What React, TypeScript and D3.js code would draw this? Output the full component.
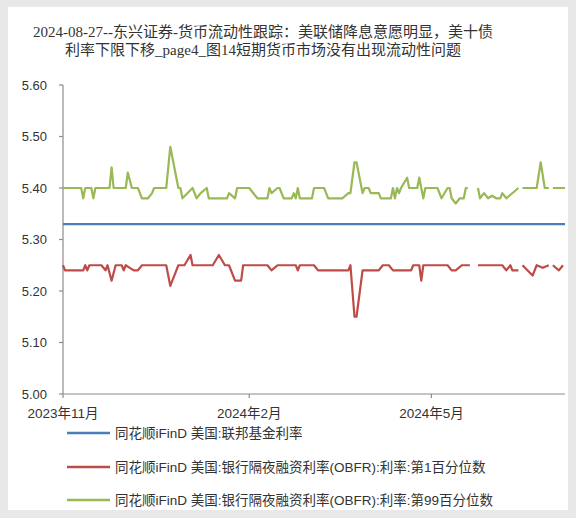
import React from "react";
import * as d3 from "d3";

const titleLines = [
  "2024-08-27--东兴证券-货币流动性跟踪：美联储降息意愿明显，美十债",
  "利率下限下移_page4_图14短期货币市场没有出现流动性问题",
];

const seriesNames = [
  "同花顺iFinD 美国:联邦基金利率",
  "同花顺iFinD 美国:银行隔夜融资利率(OBFR):利率:第1百分位数",
  "同花顺iFinD 美国:银行隔夜融资利率(OBFR):利率:第99百分位数",
];
const seriesColors = ["#4A7EBB", "#BE4B48", "#98B954"];

const yTicks = [5.0, 5.1, 5.2, 5.3, 5.4, 5.5, 5.6];
const xTickDates = ["2023-11-01", "2024-02-01", "2024-05-01"];
const xTickLabels = ["2023年11月", "2024年2月", "2024年5月"];
const xDomain = ["2023-11-01", "2024-07-06"];

// 联邦基金利率
const fedDates = ["2023-11-01", "2024-07-06"];
const fedValues = [5.33, 5.33];

// OBFR 第1百分位数
const p1Dates = [
  "2023-11-01", "2023-11-02", "2023-11-11", "2023-11-12", "2023-11-13", "2023-11-14",
  "2023-11-20", "2023-11-22", "2023-11-23", "2023-11-25", "2023-11-27", "2023-11-30",
  "2023-12-01", "2023-12-02", "2023-12-04", "2023-12-06", "2023-12-08", "2023-12-10",
  "2023-12-22", "2023-12-24", "2023-12-28", "2023-12-31", "2024-01-03", "2024-01-04",
  "2024-01-14", "2024-01-17", "2024-01-20", "2024-01-22", "2024-01-25", "2024-01-28",
  "2024-01-29", "2024-02-10", "2024-02-12", "2024-02-15", "2024-02-24", "2024-02-25",
  "2024-02-26", "2024-03-04", "2024-03-06", "2024-03-21", "2024-03-22", "2024-03-24",
  "2024-03-25", "2024-03-28", "2024-04-05", "2024-04-07", "2024-04-10", "2024-04-12",
  "2024-04-21", "2024-04-22", "2024-04-25", "2024-04-26", "2024-04-27", "2024-05-09",
  "2024-05-11", "2024-05-13", "2024-05-16", "2024-05-20", "2024-05-22", "2024-05-24",
  "2024-06-05", "2024-06-07", "2024-06-09", "2024-06-10", "2024-06-13", "2024-06-14",
  "2024-06-15", "2024-06-20", "2024-06-22", "2024-06-25", "2024-06-28", "2024-06-29",
  "2024-06-30", "2024-07-03", "2024-07-05",
];
const p1Values: (number | null)[] = [
  5.25, 5.24, 5.24, 5.25, 5.24, 5.25,
  5.25, 5.24, 5.25, 5.22, 5.25, 5.25,
  5.24, 5.25, 5.245, 5.24, 5.24, 5.25,
  5.25, 5.21, 5.25, 5.25, 5.27, 5.25,
  5.25, 5.27, 5.25, 5.25, 5.22, 5.22,
  5.25, 5.25, 5.24, 5.25, 5.25, 5.24,
  5.25, 5.25, 5.24, 5.24, 5.25, 5.15,
  5.15, 5.24, 5.24, 5.25, 5.25, 5.24,
  5.24, 5.25, 5.25, 5.22, 5.25, 5.25,
  5.24, 5.24, 5.25, 5.25, null, 5.25,
  5.25, 5.24, 5.25, 5.24, 5.24, null,
  5.25, 5.23, 5.25, 5.245, 5.25, null,
  5.25, 5.24, 5.25,
];

// OBFR 第99百分位数
const p99Dates = [
  "2023-11-01", "2023-11-10", "2023-11-11", "2023-11-12", "2023-11-15", "2023-11-16",
  "2023-11-17", "2023-11-24", "2023-11-25", "2023-11-26", "2023-12-02", "2023-12-03",
  "2023-12-05", "2023-12-08", "2023-12-10", "2023-12-13", "2023-12-15", "2023-12-16",
  "2023-12-22", "2023-12-24", "2023-12-28", "2023-12-29", "2023-12-30", "2024-01-04",
  "2024-01-06", "2024-01-08", "2024-01-11", "2024-01-12", "2024-01-21", "2024-01-22",
  "2024-01-25", "2024-01-26", "2024-02-01", "2024-02-05", "2024-02-10", "2024-02-11",
  "2024-02-12", "2024-02-15", "2024-02-16", "2024-02-18", "2024-02-22", "2024-02-23",
  "2024-02-24", "2024-02-25", "2024-02-26", "2024-03-03", "2024-03-04", "2024-03-09",
  "2024-03-11", "2024-03-18", "2024-03-21", "2024-03-22", "2024-03-24", "2024-03-25",
  "2024-03-28", "2024-03-29", "2024-03-31", "2024-04-01", "2024-04-05", "2024-04-06",
  "2024-04-11", "2024-04-12", "2024-04-13", "2024-04-14", "2024-04-15", "2024-04-16",
  "2024-04-19", "2024-04-20", "2024-04-24", "2024-04-25", "2024-04-27", "2024-04-28",
  "2024-05-04", "2024-05-06", "2024-05-09", "2024-05-10", "2024-05-11", "2024-05-13",
  "2024-05-15", "2024-05-17", "2024-05-18", "2024-05-19", "2024-05-22", "2024-05-24",
  "2024-05-25", "2024-05-27", "2024-05-29", "2024-05-31", "2024-06-02", "2024-06-04",
  "2024-06-05", "2024-06-07", "2024-06-13", "2024-06-14", "2024-06-15", "2024-06-22",
  "2024-06-24", "2024-06-26", "2024-06-28", "2024-06-29", "2024-06-30", "2024-07-06",
];
const p99Values: (number | null)[] = [
  5.40, 5.40, 5.38, 5.40, 5.40, 5.38,
  5.40, 5.40, 5.44, 5.40, 5.40, 5.43,
  5.40, 5.40, 5.38, 5.38, 5.39, 5.40,
  5.40, 5.48, 5.40, 5.40, 5.38, 5.40,
  5.38, 5.39, 5.40, 5.38, 5.38, 5.39,
  5.38, 5.40, 5.40, 5.38, 5.38, 5.40,
  5.39, 5.40, 5.40, 5.38, 5.38, 5.39,
  5.38, 5.40, 5.38, 5.38, 5.40, 5.40,
  5.38, 5.38, 5.39, 5.39, 5.45, 5.45,
  5.39, 5.40, 5.40, 5.39, 5.39, 5.38,
  5.38, 5.40, 5.38, 5.40, 5.39, 5.40,
  5.42, 5.40, 5.40, 5.42, 5.38, 5.40,
  5.40, 5.38, 5.40, 5.40, 5.38, 5.37,
  5.38, 5.38, 5.40, 5.40, null, 5.40,
  5.38, 5.39, 5.38, 5.385, 5.38, 5.38,
  5.39, 5.38, 5.40, null, 5.40, 5.40,
  5.45, 5.40, 5.40, null, 5.40, 5.40,
];

const parse = d3.timeParse("%Y-%m-%d");

type Pt = { date: Date; value: number | null };
const zip = (ds: string[], vs: (number | null)[]): Pt[] =>
  ds.map((d, i) => ({ date: parse(d) as Date, value: vs[i] }));

const allSeries = [zip(fedDates, fedValues), zip(p1Dates, p1Values), zip(p99Dates, p99Values)];

export default function App() {
  const W = 576;
  const H = 518;
  const x = d3
    .scaleTime()
    .domain(xDomain.map((d) => parse(d) as Date))
    .range([63, 565]);
  const y = d3.scaleLinear().domain([5.0, 5.6]).range([394, 85]);

  const line = d3
    .line<Pt>()
    .defined((d) => d.value !== null)
    .x((d) => x(d.date))
    .y((d) => y(d.value as number));

  const axisColor = "#8c8c8c";
  const labelFont = "'Liberation Sans', Arial, 'Noto Sans CJK SC', sans-serif";
  const legendY = [433, 467, 500];

  return (
    <svg
      width={W}
      height={H}
      style={{ position: "absolute", left: 0, top: 0, display: "block" }}
    >
      <rect x={0} y={0} width={W} height={H} fill="#e8e8e8" />
      <rect x={8} y={7} width={560} height={503} fill="#ffffff" />

      {titleLines.map((t, i) => (
        <text
          key={i}
          x={263}
          y={37 + i * 18}
          fontFamily="'Liberation Serif', 'Noto Sans CJK SC', serif"
          fontSize={15}
          fill="#333"
          textAnchor="middle"
        >
          {t}
        </text>
      ))}

      {/* y axis */}
      <line x1={63} x2={63} y1={y(5.6)} y2={y(5.0)} stroke={axisColor} strokeWidth={1.2} />
      {yTicks.map((t) => (
        <g key={t}>
          <line x1={59} x2={63} y1={y(t)} y2={y(t)} stroke={axisColor} strokeWidth={1.2} />
          <text
            x={47}
            y={y(t)}
            dy="0.35em"
            textAnchor="end"
            fontFamily={labelFont}
            fontSize={13}
            fill="#333"
          >
            {t.toFixed(2)}
          </text>
        </g>
      ))}

      {/* x axis */}
      <line x1={63} x2={565} y1={y(5.0)} y2={y(5.0)} stroke={axisColor} strokeWidth={1.2} />
      {xTickDates.map((d, i) => {
        const px = x(parse(d) as Date);
        return (
          <g key={d}>
            <line x1={px} x2={px} y1={y(5.0)} y2={y(5.0) + 4} stroke={axisColor} strokeWidth={1.2} />
            <text
              x={px}
              y={418}
              textAnchor="middle"
              fontFamily={labelFont}
              fontSize={13.5}
              fill="#333"
            >
              {xTickLabels[i]}
            </text>
          </g>
        );
      })}

      {/* series */}
      {allSeries.map((s, i) => (
        <path
          key={i}
          d={line(s) || ""}
          fill="none"
          stroke={seriesColors[i]}
          strokeWidth={2.2}
          strokeLinejoin="round"
        />
      ))}

      {/* legend */}
      {seriesNames.map((n, i) => (
        <g key={n}>
          <line
            x1={67}
            x2={110}
            y1={legendY[i]}
            y2={legendY[i]}
            stroke={seriesColors[i]}
            strokeWidth={2.5}
          />
          <text
            x={115}
            y={legendY[i]}
            dy="0.36em"
            fontFamily={labelFont}
            fontSize={13.5}
            fill="#333"
          >
            {n}
          </text>
        </g>
      ))}
    </svg>
  );
}
